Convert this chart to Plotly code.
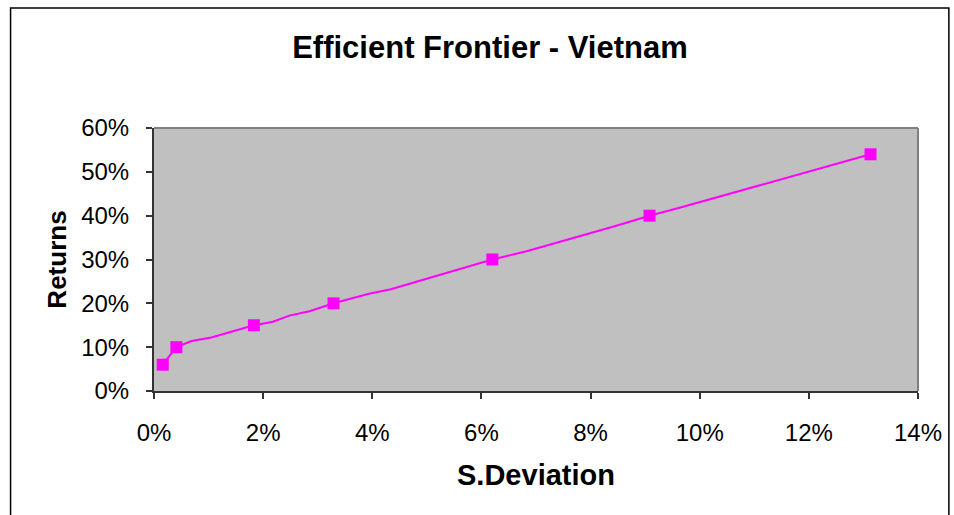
import plotly.graph_objects as go

# Frontier curve (S.Deviation, Returns) in fractions
curve_sd = [0.0016, 0.0041, 0.0069, 0.0105, 0.0183, 0.0218, 0.0248, 0.0285, 0.0329,
            0.0394, 0.0434, 0.0620, 0.0686, 0.0760, 0.0844, 0.0908, 0.0963, 0.1313]
curve_ret = [0.060, 0.100, 0.114, 0.122, 0.150, 0.158, 0.172, 0.182, 0.200,
             0.222, 0.232, 0.300, 0.320, 0.346, 0.376, 0.400, 0.418, 0.540]

# Marked portfolios
mark_sd = [0.0016, 0.0041, 0.0183, 0.0329, 0.0620, 0.0908, 0.1313]
mark_ret = [0.06, 0.10, 0.15, 0.20, 0.30, 0.40, 0.54]

x_ticks = [0, 0.02, 0.04, 0.06, 0.08, 0.10, 0.12, 0.14]
y_ticks = [0, 0.1, 0.2, 0.3, 0.4, 0.5, 0.6]

MAG = "#FF00FF"
FONT = "Liberation Sans, Arial, sans-serif"

fig = go.Figure()
fig.add_trace(go.Scatter(x=curve_sd, y=curve_ret, mode="lines",
                         line=dict(color=MAG, width=2), hoverinfo="skip",
                         showlegend=False))
fig.add_trace(go.Scatter(x=mark_sd, y=mark_ret, mode="markers",
                         marker=dict(symbol="square", size=12, color=MAG),
                         showlegend=False))

L, R, T, B = 154, 33, 128, 124
W, H = 954, 515
pw = W - L - R
ph = H - T - B

def px(x):
    return (x - L) / pw

def py(y):
    return (H - B - y) / ph

fig.update_layout(
    width=W, height=H,
    margin=dict(l=L, r=R, t=T, b=B, pad=0),
    paper_bgcolor="white",
    plot_bgcolor="#C0C0C0",
    font=dict(family=FONT, color="black", size=24),
    title=dict(text="<b>Efficient Frontier - Vietnam</b>", x=490 / W, xanchor="center",
               y=1 - 47 / H, yanchor="middle", font=dict(size=31, family=FONT)),
    xaxis=dict(range=[0, 0.14], tickvals=x_ticks, tickformat=".0%",
               showgrid=False, zeroline=False, showline=True, linecolor="#333333",
               linewidth=2, mirror=False, ticks="outside", ticklen=6, tickcolor="#333333",
               tickwidth=1.5, tickfont=dict(size=24), ticklabelstandoff=13,
               title=dict(text="<b>S.Deviation</b>", font=dict(size=29), standoff=20)),
    yaxis=dict(range=[0, 0.6], tickvals=y_ticks, tickformat=".0%",
               showgrid=False, zeroline=False, showline=True, linecolor="#333333",
               linewidth=2, ticks="outside", ticklen=6, tickcolor="#333333",
               tickwidth=1.5, tickfont=dict(size=24), ticklabelstandoff=12,
               title=dict(text="<b>Returns</b>", font=dict(size=26), standoff=7)),
    shapes=[
        # plot area frame (top/right gray)
        dict(type="line", xref="paper", yref="paper", x0=0, x1=1, y0=1, y1=1,
             line=dict(color="#808080", width=2)),
        dict(type="line", xref="paper", yref="paper", x0=1, x1=1, y0=0, y1=1,
             line=dict(color="#808080", width=2)),
        # outer chart border
        dict(type="rect", xref="paper", yref="paper", x0=px(10), x1=px(952),
             y0=py(530), y1=py(8), line=dict(color="black", width=1.5),
             fillcolor="rgba(0,0,0,0)", layer="below"),
    ],
)

fig.write_html("out.html", post_script="document.body.style.margin='0';",
               config={"displayModeBar": False})
